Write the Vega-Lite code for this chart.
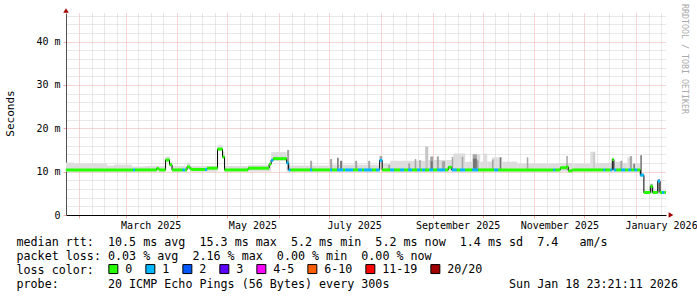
{
  "$schema": "https://vega.github.io/schema/vega-lite/v6.json",
  "autosize": {"type": "none"},
  "width": 600,
  "height": 202,
  "padding": {"left": 66, "top": 13, "right": 31, "bottom": 82},
  "background": "white",
  "config": {"view": {"stroke": null}, "font": "DejaVu Sans Mono"},
  "title": {"text": "RRDTOOL\u00a0/\u00a0TOBI\u00a0OETIKER", "orient": "right", "anchor": "start", "frame": "group", "font": "DejaVu Sans Mono", "fontSize": 8.3, "fontWeight": "normal", "color": "#aaaaaa", "offset": -16, "dx": -9},
  "datasets": {
    "median": [
      {"start": "2025-01-24T05:00", "end": "2025-03-05T10:00", "median": 10.4, "loss": "0"},
      {"start": "2025-03-05T10:00", "end": "2025-03-06T14:00", "median": 10.4, "loss": "1"},
      {"start": "2025-03-06T14:00", "end": "2025-03-19T12:00", "median": 10.4, "loss": "0"},
      {"start": "2025-03-19T12:00", "end": "2025-03-21T00:00", "median": 10.7, "loss": "0"},
      {"start": "2025-03-21T00:00", "end": "2025-03-24T22:00", "median": 10.4, "loss": "0"},
      {"start": "2025-03-24T22:00", "end": "2025-03-27T07:00", "median": 12.7, "loss": "0"},
      {"start": "2025-03-27T07:00", "end": "2025-03-28T19:00", "median": 11.6, "loss": "0"},
      {"start": "2025-03-28T19:00", "end": "2025-04-04T02:00", "median": 10.4, "loss": "0"},
      {"start": "2025-04-04T02:00", "end": "2025-04-05T14:00", "median": 10.4, "loss": "1"},
      {"start": "2025-04-05T14:00", "end": "2025-04-06T19:00", "median": 10.4, "loss": "0"},
      {"start": "2025-04-06T19:00", "end": "2025-04-08T14:00", "median": 11.1, "loss": "0"},
      {"start": "2025-04-08T14:00", "end": "2025-04-09T19:00", "median": 10.6, "loss": "0"},
      {"start": "2025-04-09T19:00", "end": "2025-04-17T14:00", "median": 10.5, "loss": "0"},
      {"start": "2025-04-17T14:00", "end": "2025-04-18T19:00", "median": 10.5, "loss": "1"},
      {"start": "2025-04-18T19:00", "end": "2025-04-25T02:00", "median": 10.8, "loss": "0"},
      {"start": "2025-04-25T02:00", "end": "2025-04-28T02:00", "median": 15.2, "loss": "0"},
      {"start": "2025-04-28T02:00", "end": "2025-04-29T07:00", "median": 13.4, "loss": "0"},
      {"start": "2025-04-29T07:00", "end": "2025-05-13T10:00", "median": 10.4, "loss": "0"},
      {"start": "2025-05-13T10:00", "end": "2025-05-26T00:00", "median": 10.8, "loss": "0"},
      {"start": "2025-05-26T00:00", "end": "2025-05-27T05:00", "median": 11.7, "loss": "0"},
      {"start": "2025-05-27T05:00", "end": "2025-05-28T10:00", "median": 12.6, "loss": "1"},
      {"start": "2025-05-28T10:00", "end": "2025-06-05T12:00", "median": 13.0, "loss": "0"},
      {"start": "2025-06-05T12:00", "end": "2025-06-06T17:00", "median": 12.0, "loss": "1"},
      {"start": "2025-06-06T17:00", "end": "2025-06-07T22:00", "median": 10.4, "loss": "1"},
      {"start": "2025-06-07T22:00", "end": "2025-06-19T14:00", "median": 10.4, "loss": "0"},
      {"start": "2025-06-19T14:00", "end": "2025-06-20T19:00", "median": 10.4, "loss": "1"},
      {"start": "2025-06-20T19:00", "end": "2025-07-01T14:00", "median": 10.4, "loss": "0"},
      {"start": "2025-07-01T14:00", "end": "2025-07-02T19:00", "median": 10.4, "loss": "1"},
      {"start": "2025-07-02T19:00", "end": "2025-07-05T19:00", "median": 10.4, "loss": "0"},
      {"start": "2025-07-05T19:00", "end": "2025-07-09T10:00", "median": 10.4, "loss": "1"},
      {"start": "2025-07-09T10:00", "end": "2025-07-10T14:00", "median": 10.4, "loss": "0"},
      {"start": "2025-07-10T14:00", "end": "2025-07-15T10:00", "median": 10.4, "loss": "1"},
      {"start": "2025-07-15T10:00", "end": "2025-07-18T10:00", "median": 10.4, "loss": "0"},
      {"start": "2025-07-18T10:00", "end": "2025-07-20T19:00", "median": 10.4, "loss": "1"},
      {"start": "2025-07-20T19:00", "end": "2025-07-22T00:00", "median": 10.4, "loss": "0"},
      {"start": "2025-07-22T00:00", "end": "2025-07-26T19:00", "median": 10.4, "loss": "1"},
      {"start": "2025-07-26T19:00", "end": "2025-07-29T05:00", "median": 10.4, "loss": "0"},
      {"start": "2025-07-29T05:00", "end": "2025-07-31T07:00", "median": 10.4, "loss": "1"},
      {"start": "2025-07-31T07:00", "end": "2025-08-01T19:00", "median": 12.6, "loss": "1"},
      {"start": "2025-08-01T19:00", "end": "2025-08-06T14:00", "median": 10.4, "loss": "0"},
      {"start": "2025-08-06T14:00", "end": "2025-08-09T00:00", "median": 10.4, "loss": "1"},
      {"start": "2025-08-09T00:00", "end": "2025-08-12T14:00", "median": 10.4, "loss": "0"},
      {"start": "2025-08-12T14:00", "end": "2025-08-15T00:00", "median": 10.4, "loss": "1"},
      {"start": "2025-08-15T00:00", "end": "2025-08-17T10:00", "median": 10.4, "loss": "0"},
      {"start": "2025-08-17T10:00", "end": "2025-08-19T19:00", "median": 10.4, "loss": "1"},
      {"start": "2025-08-19T19:00", "end": "2025-08-22T19:00", "median": 10.4, "loss": "0"},
      {"start": "2025-08-22T19:00", "end": "2025-08-24T14:00", "median": 10.4, "loss": "1"},
      {"start": "2025-08-24T14:00", "end": "2025-08-25T19:00", "median": 10.4, "loss": "0"},
      {"start": "2025-08-25T19:00", "end": "2025-08-27T14:00", "median": 10.4, "loss": "1"},
      {"start": "2025-08-27T14:00", "end": "2025-08-30T00:00", "median": 10.4, "loss": "0"},
      {"start": "2025-08-30T00:00", "end": "2025-09-01T10:00", "median": 10.4, "loss": "1"},
      {"start": "2025-09-01T10:00", "end": "2025-09-03T19:00", "median": 10.4, "loss": "0"},
      {"start": "2025-09-03T19:00", "end": "2025-09-08T14:00", "median": 10.4, "loss": "1"},
      {"start": "2025-09-08T14:00", "end": "2025-09-10T10:00", "median": 10.4, "loss": "0"},
      {"start": "2025-09-10T10:00", "end": "2025-09-12T12:00", "median": 11.0, "loss": "0"},
      {"start": "2025-09-12T12:00", "end": "2025-09-15T12:00", "median": 10.4, "loss": "1"},
      {"start": "2025-09-15T12:00", "end": "2025-09-17T14:00", "median": 10.4, "loss": "0"},
      {"start": "2025-09-17T14:00", "end": "2025-09-20T14:00", "median": 10.4, "loss": "1"},
      {"start": "2025-09-20T14:00", "end": "2025-09-24T19:00", "median": 10.4, "loss": "0"},
      {"start": "2025-09-24T19:00", "end": "2025-09-28T10:00", "median": 10.4, "loss": "1"},
      {"start": "2025-09-28T10:00", "end": "2025-10-08T00:00", "median": 10.4, "loss": "0"},
      {"start": "2025-10-08T00:00", "end": "2025-10-10T10:00", "median": 10.4, "loss": "1"},
      {"start": "2025-10-10T10:00", "end": "2025-11-12T10:00", "median": 10.4, "loss": "0"},
      {"start": "2025-11-12T10:00", "end": "2025-11-13T14:00", "median": 10.4, "loss": "1"},
      {"start": "2025-11-13T14:00", "end": "2025-11-16T14:00", "median": 10.4, "loss": "0"},
      {"start": "2025-11-16T14:00", "end": "2025-11-20T05:00", "median": 10.9, "loss": "0"},
      {"start": "2025-11-20T05:00", "end": "2025-11-21T10:00", "median": 11.1, "loss": "0"},
      {"start": "2025-11-21T10:00", "end": "2025-11-23T19:00", "median": 10.2, "loss": "0"},
      {"start": "2025-11-23T19:00", "end": "2025-12-12T10:00", "median": 10.4, "loss": "0"},
      {"start": "2025-12-12T10:00", "end": "2025-12-13T14:00", "median": 10.4, "loss": "1"},
      {"start": "2025-12-13T14:00", "end": "2025-12-16T14:00", "median": 10.4, "loss": "0"},
      {"start": "2025-12-16T14:00", "end": "2025-12-17T19:00", "median": 10.4, "loss": "1"},
      {"start": "2025-12-17T19:00", "end": "2025-12-18T17:00", "median": 12.8, "loss": "0"},
      {"start": "2025-12-18T17:00", "end": "2025-12-20T05:00", "median": 10.4, "loss": "1"},
      {"start": "2025-12-20T05:00", "end": "2025-12-23T05:00", "median": 10.4, "loss": "0"},
      {"start": "2025-12-23T05:00", "end": "2025-12-25T14:00", "median": 10.4, "loss": "1"},
      {"start": "2025-12-25T14:00", "end": "2025-12-27T10:00", "median": 10.4, "loss": "0"},
      {"start": "2025-12-27T10:00", "end": "2025-12-29T05:00", "median": 10.4, "loss": "1"},
      {"start": "2025-12-29T05:00", "end": "2025-12-31T00:00", "median": 10.4, "loss": "0"},
      {"start": "2025-12-31T00:00", "end": "2026-01-01T19:00", "median": 10.4, "loss": "1"},
      {"start": "2026-01-01T19:00", "end": "2026-01-03T14:00", "median": 10.4, "loss": "0"},
      {"start": "2026-01-03T14:00", "end": "2026-01-05T17:00", "median": 9.2, "loss": "1"},
      {"start": "2026-01-05T17:00", "end": "2026-01-09T14:00", "median": 5.2, "loss": "0"},
      {"start": "2026-01-09T14:00", "end": "2026-01-11T00:00", "median": 6.6, "loss": "0"},
      {"start": "2026-01-11T00:00", "end": "2026-01-14T00:00", "median": 5.2, "loss": "0"},
      {"start": "2026-01-14T00:00", "end": "2026-01-15T10:00", "median": 7.8, "loss": "1"},
      {"start": "2026-01-15T10:00", "end": "2026-01-16T14:00", "median": 5.2, "loss": "0"},
      {"start": "2026-01-16T14:00", "end": "2026-01-18T00:00", "median": 5.2, "loss": "1"},
      {"start": "2026-01-18T00:00", "end": "2026-01-18T23:21", "median": 5.2, "loss": "0"}
    ],
    "smoke": [
      {"start": "2025-01-24T05:00", "end": "2025-01-29T00:00", "lo": 10.0, "hi": 12.1, "shade": "a"},
      {"start": "2025-01-29T00:00", "end": "2025-02-17T19:00", "lo": 10.0, "hi": 11.9, "shade": "a"},
      {"start": "2025-02-17T19:00", "end": "2025-02-22T00:00", "lo": 10.0, "hi": 11.4, "shade": "a"},
      {"start": "2025-02-22T00:00", "end": "2025-03-04T19:00", "lo": 10.0, "hi": 11.6, "shade": "a"},
      {"start": "2025-03-04T19:00", "end": "2025-03-12T14:00", "lo": 10.0, "hi": 11.2, "shade": "a"},
      {"start": "2025-03-12T14:00", "end": "2025-03-24T22:00", "lo": 10.0, "hi": 11.3, "shade": "a"},
      {"start": "2025-03-24T22:00", "end": "2025-03-27T07:00", "lo": 12.2, "hi": 13.5, "shade": "a"},
      {"start": "2025-03-27T07:00", "end": "2025-03-28T19:00", "lo": 11.2, "hi": 12.3, "shade": "a"},
      {"start": "2025-03-28T19:00", "end": "2025-04-06T19:00", "lo": 10.0, "hi": 11.3, "shade": "a"},
      {"start": "2025-04-06T19:00", "end": "2025-04-08T14:00", "lo": 10.6, "hi": 12.1, "shade": "a"},
      {"start": "2025-04-08T14:00", "end": "2025-04-25T02:00", "lo": 10.0, "hi": 11.3, "shade": "a"},
      {"start": "2025-04-25T02:00", "end": "2025-04-28T02:00", "lo": 14.8, "hi": 16.1, "shade": "a"},
      {"start": "2025-04-28T02:00", "end": "2025-04-29T07:00", "lo": 13.0, "hi": 14.6, "shade": "a"},
      {"start": "2025-04-29T07:00", "end": "2025-05-13T10:00", "lo": 10.0, "hi": 11.3, "shade": "a"},
      {"start": "2025-05-13T10:00", "end": "2025-05-27T05:00", "lo": 10.0, "hi": 11.5, "shade": "a"},
      {"start": "2025-05-27T05:00", "end": "2025-06-05T12:00", "lo": 12.5, "hi": 14.5, "shade": "a"},
      {"start": "2025-06-05T12:00", "end": "2025-07-01T14:00", "lo": 10.0, "hi": 11.4, "shade": "a"},
      {"start": "2025-07-01T14:00", "end": "2025-07-31T07:00", "lo": 10.0, "hi": 11.6, "shade": "a"},
      {"start": "2025-07-31T07:00", "end": "2025-08-01T19:00", "lo": 12.2, "hi": 13.6, "shade": "a"},
      {"start": "2025-08-01T19:00", "end": "2025-08-06T14:00", "lo": 10.0, "hi": 11.8, "shade": "a"},
      {"start": "2025-08-06T14:00", "end": "2025-08-27T14:00", "lo": 10.0, "hi": 12.5, "shade": "a"},
      {"start": "2025-08-27T14:00", "end": "2025-08-29T10:00", "lo": 10.0, "hi": 15.8, "shade": "b"},
      {"start": "2025-08-29T10:00", "end": "2025-09-09T05:00", "lo": 10.0, "hi": 12.7, "shade": "a"},
      {"start": "2025-09-09T05:00", "end": "2025-09-13T10:00", "lo": 10.0, "hi": 12.7, "shade": "a"},
      {"start": "2025-09-13T10:00", "end": "2025-09-20T14:00", "lo": 10.0, "hi": 14.2, "shade": "a"},
      {"start": "2025-09-20T14:00", "end": "2025-09-24T19:00", "lo": 10.0, "hi": 12.3, "shade": "a"},
      {"start": "2025-09-24T19:00", "end": "2025-09-29T14:00", "lo": 10.0, "hi": 14.0, "shade": "a"},
      {"start": "2025-09-29T14:00", "end": "2025-10-01T10:00", "lo": 10.0, "hi": 12.3, "shade": "a"},
      {"start": "2025-10-01T10:00", "end": "2025-10-03T19:00", "lo": 10.0, "hi": 14.2, "shade": "a"},
      {"start": "2025-10-03T19:00", "end": "2025-10-06T19:00", "lo": 10.0, "hi": 12.3, "shade": "a"},
      {"start": "2025-10-06T19:00", "end": "2025-10-12T19:00", "lo": 10.0, "hi": 13.3, "shade": "a"},
      {"start": "2025-10-12T19:00", "end": "2025-10-21T19:00", "lo": 10.0, "hi": 12.3, "shade": "a"},
      {"start": "2025-10-21T19:00", "end": "2025-11-16T14:00", "lo": 10.0, "hi": 11.8, "shade": "a"},
      {"start": "2025-11-16T14:00", "end": "2025-11-24T10:00", "lo": 10.0, "hi": 12.0, "shade": "a"},
      {"start": "2025-11-24T10:00", "end": "2025-12-04T14:00", "lo": 10.0, "hi": 11.8, "shade": "a"},
      {"start": "2025-12-04T14:00", "end": "2025-12-07T14:00", "lo": 10.0, "hi": 14.6, "shade": "a"},
      {"start": "2025-12-07T14:00", "end": "2025-12-17T19:00", "lo": 10.0, "hi": 12.0, "shade": "a"},
      {"start": "2025-12-17T19:00", "end": "2025-12-22T14:00", "lo": 10.0, "hi": 12.3, "shade": "a"},
      {"start": "2025-12-22T14:00", "end": "2025-12-26T19:00", "lo": 10.0, "hi": 12.0, "shade": "a"},
      {"start": "2025-12-26T19:00", "end": "2025-12-29T19:00", "lo": 10.0, "hi": 13.3, "shade": "a"},
      {"start": "2025-12-29T19:00", "end": "2026-01-03T14:00", "lo": 10.0, "hi": 11.9, "shade": "a"},
      {"start": "2026-01-03T14:00", "end": "2026-01-05T17:00", "lo": 8.8, "hi": 9.6, "shade": "a"},
      {"start": "2026-01-05T17:00", "end": "2026-01-18T23:21", "lo": 4.9, "hi": 5.6, "shade": "a"},
      {"start": "2025-06-05T19:00", "end": "2025-06-07T00:00", "lo": 10.4, "hi": 15.0, "shade": "c"},
      {"start": "2025-06-19T14:00", "end": "2025-06-20T19:00", "lo": 10.4, "hi": 12.5, "shade": "c"},
      {"start": "2025-07-01T14:00", "end": "2025-07-02T19:00", "lo": 10.4, "hi": 12.9, "shade": "c"},
      {"start": "2025-07-05T19:00", "end": "2025-07-06T17:00", "lo": 10.4, "hi": 13.2, "shade": "d"},
      {"start": "2025-07-07T14:00", "end": "2025-07-08T19:00", "lo": 10.4, "hi": 12.5, "shade": "d"},
      {"start": "2025-07-16T14:00", "end": "2025-07-17T19:00", "lo": 10.4, "hi": 12.5, "shade": "c"},
      {"start": "2025-07-24T10:00", "end": "2025-07-25T14:00", "lo": 10.4, "hi": 12.5, "shade": "c"},
      {"start": "2025-07-31T07:00", "end": "2025-08-01T19:00", "lo": 12.4, "hi": 13.6, "shade": "c"},
      {"start": "2025-08-05T10:00", "end": "2025-08-06T14:00", "lo": 10.4, "hi": 11.6, "shade": "c"},
      {"start": "2025-08-17T10:00", "end": "2025-08-18T14:00", "lo": 10.4, "hi": 11.9, "shade": "c"},
      {"start": "2025-08-21T07:00", "end": "2025-08-22T05:00", "lo": 10.4, "hi": 12.9, "shade": "c"},
      {"start": "2025-08-24T00:00", "end": "2025-08-24T22:00", "lo": 10.4, "hi": 12.7, "shade": "c"},
      {"start": "2025-08-30T14:00", "end": "2025-09-01T10:00", "lo": 10.4, "hi": 13.5, "shade": "c"},
      {"start": "2025-08-30T22:00", "end": "2025-09-01T02:00", "lo": 10.4, "hi": 12.4, "shade": "d"},
      {"start": "2025-09-03T14:00", "end": "2025-09-04T19:00", "lo": 10.4, "hi": 13.5, "shade": "c"},
      {"start": "2025-09-06T14:00", "end": "2025-09-08T14:00", "lo": 10.4, "hi": 12.4, "shade": "c"},
      {"start": "2025-09-12T12:00", "end": "2025-09-13T10:00", "lo": 10.4, "hi": 13.4, "shade": "c"},
      {"start": "2025-09-18T12:00", "end": "2025-09-19T10:00", "lo": 10.4, "hi": 13.4, "shade": "c"},
      {"start": "2025-09-25T05:00", "end": "2025-09-27T14:00", "lo": 10.4, "hi": 14.0, "shade": "c"},
      {"start": "2025-09-25T05:00", "end": "2025-09-27T14:00", "lo": 10.4, "hi": 13.0, "shade": "d"},
      {"start": "2025-09-27T14:00", "end": "2025-09-28T14:00", "lo": 10.4, "hi": 12.6, "shade": "c"},
      {"start": "2025-10-06T14:00", "end": "2025-10-07T14:00", "lo": 10.4, "hi": 12.8, "shade": "c"},
      {"start": "2025-10-11T07:00", "end": "2025-10-12T05:00", "lo": 10.4, "hi": 13.3, "shade": "d"},
      {"start": "2025-10-27T12:00", "end": "2025-10-28T10:00", "lo": 10.4, "hi": 13.3, "shade": "c"},
      {"start": "2025-11-20T05:00", "end": "2025-11-21T02:00", "lo": 10.4, "hi": 13.6, "shade": "c"},
      {"start": "2025-12-06T10:00", "end": "2025-12-07T07:00", "lo": 10.4, "hi": 14.4, "shade": "b"},
      {"start": "2025-12-22T14:00", "end": "2025-12-23T19:00", "lo": 10.4, "hi": 12.5, "shade": "c"},
      {"start": "2025-12-28T07:00", "end": "2025-12-29T12:00", "lo": 10.4, "hi": 13.6, "shade": "c"},
      {"start": "2025-12-30T10:00", "end": "2025-12-31T07:00", "lo": 10.4, "hi": 11.8, "shade": "d"},
      {"start": "2026-01-03T14:00", "end": "2026-01-04T12:00", "lo": 9.2, "hi": 13.8, "shade": "d"},
      {"start": "2026-01-09T14:00", "end": "2026-01-11T00:00", "lo": 5.2, "hi": 7.2, "shade": "c"},
      {"start": "2026-01-14T00:00", "end": "2026-01-15T10:00", "lo": 5.2, "hi": 8.3, "shade": "c"}
    ]
  },
  "encoding": {
    "x": {
      "field": "start", "type": "temporal",
      "scale": {"domain": [{"year": 2025, "month": 1, "date": 24, "hours": 5}, {"year": 2026, "month": 1, "date": 18, "hours": 23, "minutes": 21}]},
      "axis": {
        "values": [
          {"year": 2025, "month": 2, "date": 1}, {"year": 2025, "month": 2, "date": 8, "hours": 12}, {"year": 2025, "month": 2, "date": 16}, {"year": 2025, "month": 2, "date": 23, "hours": 12},
          {"year": 2025, "month": 3, "date": 1}, {"year": 2025, "month": 3, "date": 8, "hours": 12}, {"year": 2025, "month": 3, "date": 16}, {"year": 2025, "month": 3, "date": 23, "hours": 12},
          {"year": 2025, "month": 4, "date": 1}, {"year": 2025, "month": 4, "date": 8, "hours": 12}, {"year": 2025, "month": 4, "date": 16}, {"year": 2025, "month": 4, "date": 23, "hours": 12},
          {"year": 2025, "month": 5, "date": 1}, {"year": 2025, "month": 5, "date": 8, "hours": 12}, {"year": 2025, "month": 5, "date": 16}, {"year": 2025, "month": 5, "date": 23, "hours": 12},
          {"year": 2025, "month": 6, "date": 1}, {"year": 2025, "month": 6, "date": 8, "hours": 12}, {"year": 2025, "month": 6, "date": 16}, {"year": 2025, "month": 6, "date": 23, "hours": 12},
          {"year": 2025, "month": 7, "date": 1}, {"year": 2025, "month": 7, "date": 8, "hours": 12}, {"year": 2025, "month": 7, "date": 16}, {"year": 2025, "month": 7, "date": 23, "hours": 12},
          {"year": 2025, "month": 8, "date": 1}, {"year": 2025, "month": 8, "date": 8, "hours": 12}, {"year": 2025, "month": 8, "date": 16}, {"year": 2025, "month": 8, "date": 23, "hours": 12},
          {"year": 2025, "month": 9, "date": 1}, {"year": 2025, "month": 9, "date": 8, "hours": 12}, {"year": 2025, "month": 9, "date": 16}, {"year": 2025, "month": 9, "date": 23, "hours": 12},
          {"year": 2025, "month": 10, "date": 1}, {"year": 2025, "month": 10, "date": 8, "hours": 12}, {"year": 2025, "month": 10, "date": 16}, {"year": 2025, "month": 10, "date": 23, "hours": 12},
          {"year": 2025, "month": 11, "date": 1}, {"year": 2025, "month": 11, "date": 8, "hours": 12}, {"year": 2025, "month": 11, "date": 16}, {"year": 2025, "month": 11, "date": 23, "hours": 12},
          {"year": 2025, "month": 12, "date": 1}, {"year": 2025, "month": 12, "date": 8, "hours": 12}, {"year": 2025, "month": 12, "date": 16}, {"year": 2025, "month": 12, "date": 23, "hours": 12},
          {"year": 2026, "month": 1, "date": 1}, {"year": 2026, "month": 1, "date": 8, "hours": 12}, {"year": 2026, "month": 1, "date": 16}
        ],
        "labelExpr": "date(datum.value) == 16 && month(datum.value) % 2 == 0 ? timeFormat(datum.value, '%B %Y') : ''",
        "labelFont": "DejaVu Sans Mono", "labelFontSize": 10, "labelColor": "#000000", "labelPadding": 2, "labelAngle": 0,
        "labelOverlap": false, "labelFlush": false, "labelBound": false,
        "grid": true,
        "gridColor": {"condition": {"test": "date(datum.value) == 1", "value": "#eeaaaa"}, "value": "#d0d0d0"},
        "gridDash": [1, 1], "gridWidth": 1,
        "ticks": true, "tickSize": 3,
        "tickColor": {"condition": {"test": "date(datum.value) == 1", "value": "#eeaaaa"}, "value": "rgba(0,0,0,0)"},
        "domain": true, "domainColor": "#000000", "domainWidth": 1,
        "title": [
          "median\u00a0rtt:\u00a0\u00a010.5\u00a0ms\u00a0avg\u00a0\u00a015.3\u00a0ms\u00a0max\u00a0\u00a05.2\u00a0ms\u00a0min\u00a0\u00a05.2\u00a0ms\u00a0now\u00a0\u00a01.4\u00a0ms\u00a0sd\u00a0\u00a07.4\u00a0\u00a0\u00a0am/s",
          "packet\u00a0loss:\u00a00.03\u00a0%\u00a0avg\u00a0\u00a02.16\u00a0%\u00a0max\u00a0\u00a00.00\u00a0%\u00a0min\u00a0\u00a00.00\u00a0%\u00a0now",
          "loss\u00a0color:",
          "probe:\u00a0\u00a0\u00a0\u00a0\u00a0\u00a0\u00a020\u00a0ICMP\u00a0Echo\u00a0Pings\u00a0(56\u00a0Bytes)\u00a0every\u00a0300s\u00a0\u00a0\u00a0\u00a0\u00a0\u00a0\u00a0\u00a0\u00a0\u00a0\u00a0\u00a0\u00a0\u00a0\u00a0\u00a0\u00a0Sun\u00a0Jan\u00a018\u00a023:21:11\u00a02026"
        ],
        "titleFont": "DejaVu Sans Mono", "titleFontSize": 11.7, "titleFontWeight": "normal", "titleColor": "#000000",
        "titleAlign": "left", "titleAnchor": "start", "titleBaseline": "alphabetic", "titleLineHeight": 14,
        "titleX": -50, "titleY": 30
      }
    },
    "y": {
      "field": "median", "type": "quantitative", "title": "Seconds",
      "scale": {"domain": [0, 46.6], "nice": false, "zero": true},
      "axis": {
        "values": [0, 2, 4, 6, 8, 10, 12, 14, 16, 18, 20, 22, 24, 26, 28, 30, 32, 34, 36, 38, 40, 42, 44, 46],
        "labelExpr": "datum.value % 10 == 0 ? (datum.value == 0 ? '0' : datum.value + ' m') : ''",
        "labelFont": "DejaVu Sans Mono", "labelFontSize": 10, "labelColor": "#000000", "labelPadding": 3,
        "labelOverlap": false, "labelBound": false, "labelFlush": false,
        "grid": true,
        "gridColor": {"condition": {"test": "datum.value % 10 == 0", "value": "#eeaaaa"}, "value": "#d0d0d0"},
        "gridDash": [1, 1], "gridWidth": 1,
        "ticks": true, "tickSize": 3,
        "tickColor": {"condition": {"test": "datum.value % 10 == 0", "value": "#eeaaaa"}, "value": "rgba(0,0,0,0)"},
        "domain": true, "domainColor": "#505050", "domainWidth": 1,
        "titleFont": "DejaVu Sans Mono", "titleFontSize": 11, "titleFontWeight": "normal", "titleColor": "#000000",
        "titleAngle": -90, "titleAlign": "center", "titleBaseline": "middle", "titleX": -56, "titleY": 100
      }
    }
  },
  "layer": [
    {
      "data": {"name": "median"},
      "mark": {"type": "point", "shape": "square", "filled": true, "opacity": 1, "size": 1},
      "encoding": {
        "fill": {
          "field": "loss", "type": "nominal",
          "scale": {"domain": ["0", "1", "2", "3", "4-5", "6-10", "11-19", "20/20"], "range": ["#26ff00", "#00b8ff", "#0059ff", "#5e00ff", "#ff00ff", "#ff5e00", "#ff0000", "#a10000"]},
          "legend": {
            "orient": "none", "legendX": 41.5, "legendY": 250, "direction": "horizontal", "title": null, "padding": 0,
            "symbolType": "square", "symbolSize": 81, "symbolStrokeWidth": 1, "symbolStrokeColor": "#000000", "symbolOpacity": 1,
            "labelFont": "DejaVu Sans Mono", "labelFontSize": 11.7, "labelColor": "#000000", "labelOffset": 6, "columnPadding": 11
          }
        }
      }
    },
    {
      "data": {"name": "smoke"},
      "mark": {"type": "rect"},
      "encoding": {
        "x2": {"field": "end"},
        "y": {"field": "lo", "type": "quantitative", "title": "Seconds"},
        "y2": {"field": "hi"},
        "color": {"field": "shade", "type": "nominal", "scale": {"domain": ["a", "b", "c", "d"], "range": ["#dddddd", "#c6c6c6", "#a4a4a4", "#747474"]}, "legend": null}
      }
    },
    {
      "data": {"name": "median"},
      "mark": {"type": "line", "interpolate": "step-after", "color": "#000000", "strokeWidth": 1},
      "encoding": {}
    },
    {
      "data": {"name": "median"},
      "mark": {"type": "rule", "strokeWidth": 3, "strokeCap": "butt"},
      "encoding": {
        "x2": {"field": "end"},
        "stroke": {
          "field": "loss", "type": "nominal",
          "scale": {"domain": ["0", "1", "2", "3"], "range": ["#26ff00", "#00b8ff", "#0059ff", "#5e00ff"]},
          "legend": null
        }
      }
    },
    {
      "data": {"name": "median", "format": {"parse": {"start": "date", "end": "date"}}},
      "transform": [{"aggregate": [{"op": "min", "field": "start", "as": "start"}, {"op": "max", "field": "median", "as": "median"}]}],
      "mark": {"type": "point", "shape": "triangle-up", "filled": true, "size": 30, "color": "#a00000", "opacity": 1, "yOffset": -2.5},
      "encoding": {
        "y": {"datum": 46.6, "type": "quantitative"}
      }
    },
    {
      "data": {"name": "median"},
      "transform": [
        {"joinaggregate": [{"op": "max", "field": "end", "as": "lastEnd"}]},
        {"filter": "time(datum.end) == time(datum.lastEnd)"}
      ],
      "mark": {"type": "point", "shape": "triangle-right", "filled": true, "size": 30, "color": "#a00000", "opacity": 1, "xOffset": 5},
      "encoding": {
        "x": {"field": "end", "type": "temporal"},
        "y": {"datum": 0, "type": "quantitative"}
      }
    }
  ]
}
